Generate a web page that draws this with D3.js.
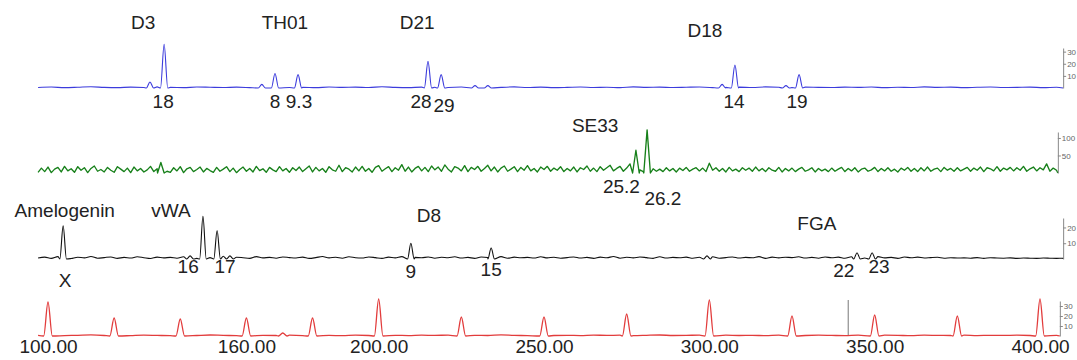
<!DOCTYPE html>
<html>
<head>
<meta charset="utf-8">
<script src="https://cdn.jsdelivr.net/npm/d3@7"></script>
<style>
  html, body { margin: 0; padding: 0; background: #fff; }
  svg { display: block; font-family: "Liberation Sans", Arial, sans-serif; }
</style>
</head>
<body>
<svg id="chart" width="1077" height="360"></svg>
<script>
// ---------------- DATA (size in bp, height in RFU-like units) ----------------
const NOISE_START = 97;

// Blue dye
const bluePeaks = [[130.84, 5], [135.12, 36], [164.67, 3], [168.65, 12], [175.62, 11],
                   [214.92, 22], [218.90, 11], [229.14, 2], [233.02, 2],
                   [303.86, 3], [307.74, 19], [323.17, 2], [327.14, 11]];
const blueLoci = [["D3", 128.75], ["TH01", 171.64], ["D21", 211.63], ["D18", 298.69]];
const blueAlleles = [["18", 134.82], ["8", 168.65], ["9.3", 175.91], ["28", 212.83], ["29", 219.79], ["14", 307.45], ["19", 326.55]];
const blueTicks = [10, 20, 30];
const blueNoise = [
  0.4,0.8,0.3,0.6,1.0,0.5,0.3,0.7,0.4,0.9,0.5,0.3,0.8,0.6,0.4,0.7,0.3,0.6,0.9,0.4,
  0.6,0.3,0.8,0.5,0.7,0.4,1.0,0.5,0.3,0.7,0.6,0.4,0.8,0.3,0.6,0.5,0.9,0.4,0.7,0.3,
  0.5,0.8,0.4,0.6,0.3,0.9,0.5,0.7,0.4,0.6,0.8,0.3,0.5,0.7,0.4,0.9,0.6,0.3,0.7,0.5,
  0.4,0.7,0.5,0.8,0.3,0.6,0.4,0.9,0.5,0.7,0.3,0.6,0.8,0.4,0.5,0.7,0.3,0.6,0.4,0.5];

// Green dye
const greenPeaks = [[134.13, 30], [277.80, 65], [281.18, 123]];
const greenLoci = [["SE33", 265.46]];
const greenAlleles = [["25.2", 273.42], ["26.2", 285.95]];
const greenTicks = [50, 100];
const greenNoise = [
  2,14,4,17,1,11,16,3,19,6,12,2,18,8,15,1,13,20,5,10,
  3,16,8,2,18,11,4,14,1,17,6,13,3,9,19,4,12,7,16,5,
  2,15,6,18,1,12,16,4,10,17,3,13,7,2,16,5,11,18,4,14,
  1,10,17,5,13,3,19,7,12,2,16,9,4,18,6,13,2,15,7,17,
  4,12,20,3,16,6,13,2,18,9,5,22,4,15,11,3,17,6,19,5,
  13,2,16,21,5,12,18,4,15,8,24,5,17,3,13,19,6,16,4,20,
  9,17,5,23,11,3,18,14,6,21,4,16,10,19,5,13,22,6,17,3,
  14,20,5,11,18,4,16,8,21,6,13,3,17,10,19,5,14,8,18,4,
  13,6,17,3,15,10,20,5,14,4,18,8,15,22,6,13,19,5,14,26,
  8,5,9,4,8,3,12,5,11,4,15,6,13,3,14,7,16,5,11,15,
  6,14,4,28,8,15,5,13,3,16,6,11,4,15,8,14,5,17,6,13,
  4,15,8,5,16,3,13,6,14,4,11,16,5,9,15,3,13,6,11,4,
  14,5,11,16,4,13,6,15,3,11,14,5,9,16,4,13,6,15,5,11,
  3,14,8,16,5,13,4,15,6,17,5,11,14,4,16,8,13,5,15,6,
  11,16,5,14,8,17,4,15,12,6,18,5,14,9,16,6,15,8,19,5,
  12,17,6,15,9,26,5,14,8,4,11,5,9,3,8,4,6,3,5,2];

// Black (yellow) dye
const blackPeaks = [[104.58, 21], [142.98, 2], [146.86, 27], [151.14, 18], [155.02, 2],
                    [209.74, 10], [234.02, 7], [299.29, 2], [344.66, 4], [349.23, 4]];
const blackLoci = [["Amelogenin", 105.07], ["vWA", 137.21], ["D8", 215.21], ["FGA", 332.52]];
const blackAlleles = [["X", 105.17], ["16", 142.38], ["17", 153.53], ["9", 209.74], ["15", 234.02], ["22", 340.68], ["23", 351.32]];
const blackTicks = [10, 20];
const blackNoise = [
  0.6,1.2,0.4,1.5,0.8,0.3,1.1,0.7,1.6,0.5,0.9,1.3,0.4,1.0,0.6,1.4,0.8,0.3,1.2,0.7,
  1.0,0.5,1.4,0.8,0.4,1.3,0.9,0.6,1.7,0.5,1.1,0.8,0.4,1.5,0.7,1.0,0.5,1.3,0.9,0.6,
  1.2,0.4,0.9,1.6,0.7,1.1,0.5,1.4,0.8,0.6,1.3,0.9,0.4,1.2,0.7,1.5,0.6,1.0,0.8,1.3,
  0.5,1.1,0.8,1.4,0.6,1.0,0.4,1.3,0.9,0.7,1.5,0.5,1.2,0.8,1.0,0.6,1.4,0.7,1.1,0.5,
  0.9,1.3,0.6,1.0,0.4,1.2,0.8,1.6,0.5,1.1,0.7,1.3,0.9,0.4,1.4,0.6,1.0,0.8,1.2,0.5,
  1.1,0.7,1.4,0.5,0.9,1.3,0.6,1.0,0.8,1.5,0.4,1.2,0.7,1.1,0.9,1.4,0.6,1.0,0.5,1.3,
  0.8,1.2,0.5,1.4,0.9,0.6,1.1,1.5,0.7,1.0,0.4,1.3,0.8,1.2,0.6,0.9,1.1,0.5,0.8,0.6,
  0.7,0.5,0.9,0.4,0.8,0.6,0.5,0.7,0.4,0.6,0.5,0.4,0.6,0.5,0.4,0.5,0.3,0.4,0.5,0.3];

// Red size standard
const ladderSizes = [100, 120, 140, 160, 180, 200, 225, 250, 275, 300, 325, 350, 375, 400];
const ladderHeights = [34, 18, 17, 18, 18, 37, 19, 19, 22, 36, 20, 21, 20, 37];
const redExtraPeaks = [[171, 3]];
const redMarkers = [342];
const sizeTickLabels = [100, 160, 200, 250, 300, 350, 400];
const redTicks = [10, 20, 30];
const redNoise = [
  0.6,0.9,0.4,0.7,1.1,0.5,0.8,0.4,0.9,0.6,0.3,0.8,0.5,1.0,0.6,0.4,0.9,0.7,0.5,0.8,
  0.4,0.9,0.6,0.3,0.8,0.5,1.0,0.7,0.4,0.8,0.6,0.9,0.3,0.7,0.5,1.1,0.6,0.4,0.8,0.5,
  0.7,0.4,0.9,0.6,0.8,0.3,0.7,1.0,0.5,0.6,0.9,0.4,0.8,0.5,0.7,0.3,0.9,0.6,0.5,0.8,
  0.6,0.4,0.8,0.5,0.9,0.7,0.3,0.8,0.6,0.5,0.9,0.4,0.7,0.6,0.8,0.5,0.4,0.7,0.5,0.6];

// ---------------- LAYOUT ----------------
const svg = d3.select("#chart");
const x = d3.scaleLinear().domain([100, 400]).range([48, 1040]);

const panels = [
  { peaks: bluePeaks, noise: blueNoise, step: 4, end: 407.0, color: "#3c3cdc", base: 88, top: 48, ymax: 33, ticks: blueTicks, w: 1.1,
    curve: d3.curveMonotoneX, sw: 1.1,
    loci: blueLoci, alleles: blueAlleles, lociDy: { D18: -51 }, lociDyDefault: -59, alleleDy: { "29": 24 }, alleleDyDefault: 20 },
  { peaks: greenPeaks, noise: greenNoise, step: 1, end: 405.4, color: "#17801a", base: 173, top: 132, ymax: 117, ticks: greenTicks, w: 1.0,
    curve: d3.curveLinear, sw: 1.35,
    loci: greenLoci, alleles: greenAlleles, lociDy: {}, lociDyDefault: -41, alleleDy: { "25.2": 20, "26.2": 32 }, alleleDyDefault: 20 },
  { peaks: blackPeaks, noise: blackNoise, step: 2, end: 407.0, color: "#111111", base: 259, top: 218, ymax: 26, ticks: blackTicks, w: 1.0,
    curve: d3.curveMonotoneX, sw: 1.1,
    loci: blackLoci, alleles: blackAlleles, lociDy: { D8: -37, FGA: -29 }, lociDyDefault: -42,
    alleleDy: { X: 28, "16": 14, "17": 14, "9": 19, "15": 17, "22": 18, "23": 14 }, alleleDyDefault: 16 },
  { peaks: ladderSizes.map((s, i) => [s, ladderHeights[i]]).concat(redExtraPeaks), noise: redNoise, step: 4, end: 406.0,
    color: "#e23c3c", base: 336, top: 301, ymax: 35, ticks: redTicks, w: 1.3,
    curve: d3.curveMonotoneX, sw: 1.3,
    loci: [], alleles: [], lociDy: {}, lociDyDefault: 0, alleleDy: {}, alleleDyDefault: 0 }
];

const textColor = "#222";
const fontSize = 19;

panels.forEach((p, pi) => {
  const y = d3.scaleLinear().domain([0, p.ymax]).range([p.base, p.top]);
  const g = svg.append("g");

  // trace points: noise samples plus peak shapes
  const pts = [];
  p.noise.forEach((v, i) => {
    const bp = NOISE_START + i * p.step;
    if (bp > p.end) return;
    if (p.peaks.some(pk => Math.abs(bp - pk[0]) <= p.w)) return;
    pts.push([bp, v]);
  });
  p.peaks.forEach(pk => {
    pts.push([pk[0] - p.w, 0], [pk[0], pk[1]], [pk[0] + p.w, 0]);
  });
  pts.push([p.end, 0]);
  pts.sort((a, b) => a[0] - b[0]);

  const line = d3.line().x(d => x(d[0])).y(d => y(d[1])).curve(p.curve);

  // red size markers
  if (pi === 3) {
    g.selectAll("line.marker").data(redMarkers).join("line")
      .attr("class", "marker")
      .attr("x1", d => x(d)).attr("x2", d => x(d))
      .attr("y1", y(0)).attr("y2", y(p.ymax + 1))
      .attr("stroke", "#777").attr("stroke-width", 1);
  }

  g.append("path").datum(pts)
    .attr("d", line)
    .attr("fill", "none")
    .attr("stroke", p.color)
    .attr("stroke-width", p.sw)
    .attr("stroke-linejoin", "round");

  // right axis
  const ax = g.append("g")
    .attr("transform", `translate(${x(p.end)},0)`)
    .call(d3.axisRight(y).tickValues(p.ticks).tickSize(3).tickSizeOuter(0).tickPadding(1));
  ax.select(".domain").attr("stroke", "#888");
  ax.selectAll(".tick line").attr("stroke", "#888");
  ax.selectAll(".tick text").attr("fill", "#666").style("font-size", "8px").style("font-family", "Liberation Sans, Arial, sans-serif");

  // locus labels
  g.selectAll("text.locus").data(p.loci).join("text")
    .attr("class", "locus")
    .attr("x", d => x(d[1]))
    .attr("y", d => p.base + (p.lociDy[d[0]] !== undefined ? p.lociDy[d[0]] : p.lociDyDefault))
    .attr("text-anchor", "middle")
    .attr("fill", textColor)
    .style("font-size", fontSize + "px")
    .text(d => d[0]);

  // allele labels
  g.selectAll("text.allele").data(p.alleles).join("text")
    .attr("class", "allele")
    .attr("x", d => x(d[1]))
    .attr("y", d => p.base + (p.alleleDy[d[0]] !== undefined ? p.alleleDy[d[0]] : p.alleleDyDefault))
    .attr("text-anchor", "middle")
    .attr("fill", textColor)
    .style("font-size", fontSize + "px")
    .text(d => d[0]);

  // size axis under red panel
  if (pi === 3) {
    const bx = svg.append("g")
      .attr("transform", `translate(0,${p.base})`)
      .call(d3.axisBottom(x).tickValues(sizeTickLabels).tickFormat(d3.format(".2f")).tickSize(0).tickPadding(3));
    bx.select(".domain").remove();
    bx.selectAll(".tick text").attr("fill", textColor).style("font-size", fontSize + "px")
      .style("font-family", "Liberation Sans, Arial, sans-serif");
  }
});
</script>
</body>
</html>
